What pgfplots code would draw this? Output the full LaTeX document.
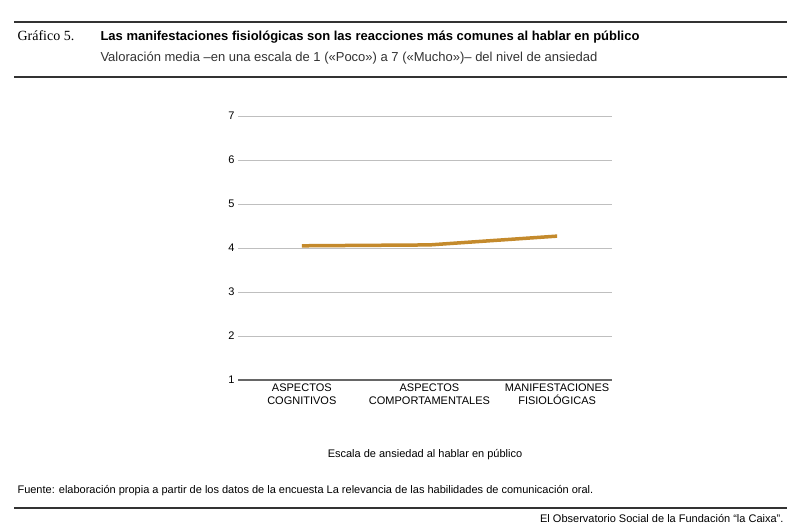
\documentclass[border=0pt]{standalone}
\usepackage{pgfplots}
\pgfplotsset{compat=1.18}
\usepackage{fontspec}
\setmainfont{Liberation Sans}
\newfontfamily\seriff{Liberation Serif}
\definecolor{gold}{HTML}{C48A2C}
\begin{document}
\begin{tikzpicture}[x=1pt,y=1pt]
\useasboundingbox[fill=white] (0,0) rectangle (801,532);
\draw[line width=1.2pt,black!80] (14,510) -- (787,510);
\draw[line width=1.2pt,black!80] (14,455) -- (787,455);
\draw[line width=1.2pt,black!80] (14,24) -- (787,24);
\node[anchor=base west,font=\seriff\fontsize{14}{16}\selectfont] at (14,491) {Gráfico 5.};
\node[anchor=base west,font=\bfseries\fontsize{13}{15}\selectfont] at (97,491) {Las manifestaciones fisiológicas son las reacciones más comunes al hablar en público};
\node[anchor=base west,font=\fontsize{13}{15}\selectfont,black!80] at (97,470) {Valoración media –en una escala de 1 («Poco») a 7 («Mucho»)– del nivel de ansiedad};
\node[anchor=base,font=\fontsize{11}{13}\selectfont] at (425,74) {Escala de ansiedad al hablar en público};
\node[anchor=base west,font=\fontsize{11}{13}\selectfont] at (14,38) {Fuente: elaboración propia a partir de los datos de la encuesta La relevancia de las habilidades de comunicación oral.};
\node[anchor=base east,font=\fontsize{11}{13}\selectfont] at (787,9) {El Observatorio Social de la Fundación “la Caixa”.};
\begin{axis}[at={(238pt,152pt)},anchor=south west,scale only axis,width=374pt,height=264pt,
 xmin=-0.5,xmax=2.43,ymin=1,ymax=7,ytick={1,...,7},
 xtick={0,1,2},xticklabels={ASPECTOS\\COGNITIVOS,ASPECTOS\\COMPORTAMENTALES,MANIFESTACIONES\\FISIOLÓGICAS},
 xticklabel style={align=center,font=\fontsize{11}{13}\selectfont},
 yticklabel style={font=\fontsize{11}{13}\selectfont},
 /pgf/number format/assume math mode=true,
 axis line style={draw=none},
 ymajorgrids,grid style={black!25,line width=0.6pt},
 major tick length=0pt,
 extra y ticks={1},extra y tick labels={},extra y tick style={grid style={black!60,line width=1.2pt}},
 clip=false]
\addplot[gold,line width=3.5pt] coordinates {(0,4.05) (1,4.07) (2,4.27)};
\end{axis}
\end{tikzpicture}
\end{document}
